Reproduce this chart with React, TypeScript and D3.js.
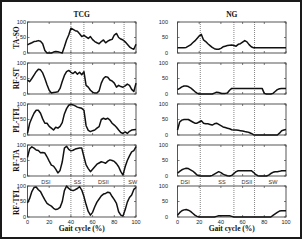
import * as d3 from 'd3';

// gait cycle sample positions (%)
const gaitPct = [0, 2, 4, 6, 8, 10, 12, 14, 16, 18, 20, 22, 24, 26, 28, 30, 32, 34, 36, 38, 40, 42, 44, 46, 48, 50, 52, 54, 56, 58, 60, 62, 64, 66, 68, 70, 72, 74, 76, 78, 80, 82, 84, 86, 88, 90, 92, 94, 96, 98, 100];

// TCG column
const tcgTaSo = [26, 30, 33, 37, 38, 40, 38, 30, 8, 0, 0, 0, 3, 5, 4, 2, 0, 20, 42, 58, 80, 76, 72, 70, 62, 53, 57, 52, 47, 53, 43, 37, 33, 30, 37, 42, 33, 38, 42, 44, 58, 63, 50, 45, 42, 36, 28, 20, 15, 12, 28];
const tcgRfSt = [45, 40, 50, 61, 72, 80, 78, 68, 50, 30, 12, 3, 5, 6, 7, 18, 40, 60, 72, 76, 70, 66, 72, 64, 70, 62, 72, 28, 22, 12, 6, 3, 3, 10, 35, 50, 56, 54, 45, 42, 35, 22, 28, 24, 22, 26, 32, 28, 15, 8, 35];
const tcgPlTfl = [5, 38, 55, 70, 80, 80, 70, 52, 38, 38, 28, 22, 16, 25, 22, 28, 40, 68, 85, 96, 99, 97, 94, 90, 88, 86, 80, 30, 15, 11, 14, 16, 22, 27, 50, 54, 51, 54, 48, 38, 32, 25, 16, 8, 5, 10, 5, 12, 16, 17, 18];
const tcgRfTa = [60, 88, 94, 90, 84, 82, 75, 76, 74, 62, 48, 35, 32, 22, 10, 18, 45, 90, 96, 86, 81, 83, 87, 89, 90, 90, 62, 36, 24, 14, 22, 30, 38, 42, 46, 44, 41, 48, 52, 50, 47, 40, 30, 14, 3, 30, 50, 65, 78, 82, 95];
const tcgRfTfl = [45, 60, 82, 95, 97, 88, 82, 68, 55, 44, 39, 35, 28, 24, 26, 31, 49, 85, 100, 92, 87, 85, 88, 92, 98, 87, 66, 40, 18, 6, 15, 33, 48, 58, 68, 74, 76, 80, 78, 66, 56, 44, 17, 6, 3, 23, 48, 63, 71, 89, 95];

// NG column
const ngTaSo = [17, 17, 17, 17, 18, 22, 26, 33, 39, 47, 55, 60, 42, 37, 30, 24, 18, 14, 12, 12, 15, 20, 22, 24, 25, 26, 24, 22, 28, 30, 35, 40, 36, 27, 20, 17, 17, 17, 17, 17, 17, 17, 17, 17, 17, 17, 17, 17, 17, 17, 17];
const ngRfSt = [14, 18, 23, 26, 26, 24, 20, 14, 8, 3, 0, 0, 0, 0, 0, 0, 0, 3, 6, 5, 2, 2, 2, 3, 12, 18, 18, 18, 18, 18, 18, 18, 18, 18, 18, 18, 18, 18, 18, 18, 2, 0, 0, 0, 2, 8, 14, 17, 18, 18, 18];
const ngPlTfl = [16, 42, 48, 50, 50, 50, 46, 42, 38, 38, 42, 46, 38, 36, 36, 34, 32, 36, 38, 34, 30, 26, 24, 22, 20, 17, 16, 16, 15, 14, 13, 11, 10, 8, 5, 1, 0, 0, 0, 0, 0, 0, 0, 0, 0, 0, 0, 6, 14, 16, 18];
const ngRfTa = [9, 15, 20, 23, 25, 24, 20, 16, 10, 3, 1, 0, 0, 0, 0, 0, 2, 6, 10, 14, 11, 6, 3, 1, 0, 2, 8, 14, 17, 17, 17, 17, 17, 17, 17, 12, 5, 1, 0, 0, 0, 0, 3, 8, 12, 14, 14, 15, 17, 17, 17];
const ngRfTfl = [6, 14, 20, 23, 24, 22, 18, 12, 6, 2, 0, 0, 0, 0, 0, 0, 0, 0, 2, 4, 4, 4, 4, 4, 4, 2, 0, 0, 0, 0, 0, 0, 0, 0, 0, 0, 0, 0, 0, 0, 0, 0, 0, 0, 5, 10, 15, 19, 20, 20, 20];

const muscleLabels = ['TA-SO', 'RF-ST', 'PL-TFL', 'RF-TA', 'RF-TFL'];
const tcgSeries = [tcgTaSo, tcgRfSt, tcgPlTfl, tcgRfTa, tcgRfTfl];
const ngSeries = [ngTaSo, ngRfSt, ngPlTfl, ngRfTa, ngRfTfl];

const phaseLabels = ['DSI', 'SS', 'DSII', 'SW'];
const tcgPhaseLines = [40, 52, 89];
const ngPhaseLines = [21, 52, 71];
const tcgPhasePos = [17, 46, 70, 97];
const ngPhasePos = [7, 41, 64, 88];

const yTicks = [0, 50, 100];
const xTicks = [0, 20, 40, 60, 80, 100];

const W = 305;
const H = 244;
const rowTops = [22, 63, 104, 145, 186];
const rowH = 31;
const serif = "'Liberation Serif', 'Times New Roman', serif";
const sans = "'Liberation Sans', Arial, sans-serif";

interface ColumnProps {
  title: string;
  series: number[][];
  x0: number;
  x1: number;
  phaseLines: number[];
  phasePos: number[];
  tickRight: number;
  showNames: boolean;
}

function Column({ title, series, x0, x1, phaseLines, phasePos, tickRight, showNames }: ColumnProps) {
  const x = d3.scaleLinear().domain([0, 100]).range([x0, x1]);
  const top = rowTops[0];
  const bottom = rowTops[rowTops.length - 1] + rowH;

  return (
    <g>
      <text x={(x0 + x1) / 2} y={17.3} textAnchor="middle" fontFamily={serif} fontWeight="bold" fontSize={7.5} fill="#111">
        {title}
      </text>

      {phaseLines.map((p, i) => (
        <line key={i} x1={x(p)} x2={x(p)} y1={top} y2={bottom} stroke="#666" strokeWidth={0.8} strokeDasharray="1,1" />
      ))}

      {series.map((vals, r) => {
        const y = d3.scaleLinear().domain([0, 100]).range([rowTops[r] + rowH, rowTops[r]]);
        const line = d3
          .line<number>()
          .x((_, i) => x(gaitPct[i]))
          .y((d) => y(d));
        return (
          <g key={r}>
            <rect x={x0} y={rowTops[r]} width={x1 - x0} height={rowH} fill="none" stroke="#444" strokeWidth={0.9} />
            {yTicks.map((t) => (
              <g key={t}>
                <line x1={x0} x2={x0 + 2} y1={y(t)} y2={y(t)} stroke="#444" strokeWidth={0.7} />
                <line x1={x1} x2={x1 - 2} y1={y(t)} y2={y(t)} stroke="#444" strokeWidth={0.7} />
                <text x={tickRight} y={y(t)} dy="0.35em" textAnchor="end" fontFamily={sans} fontSize={5.5} fill="#222">
                  {t}
                </text>
              </g>
            ))}
            {xTicks.map((t) => (
              <g key={t}>
                <line x1={x(t)} x2={x(t)} y1={rowTops[r] + rowH} y2={rowTops[r] + rowH - 2} stroke="#444" strokeWidth={0.7} />
                <line x1={x(t)} x2={x(t)} y1={rowTops[r]} y2={rowTops[r] + 2} stroke="#444" strokeWidth={0.7} />
              </g>
            ))}
            <path d={line(vals) ?? ''} fill="none" stroke="#111" strokeWidth={1.5} strokeLinejoin="round" />
            {showNames && (
              <text
                transform={`translate(18.5,${rowTops[r] + rowH / 2}) rotate(-90)`}
                textAnchor="middle"
                fontFamily={serif}
                fontWeight="bold"
                fontSize={7.5}
                fill="#111"
              >
                {muscleLabels[r]}
              </text>
            )}
          </g>
        );
      })}

      {phaseLabels.map((lab, i) => (
        <text key={lab} x={x(phasePos[i])} y={184} textAnchor="middle" fontFamily={sans} fontSize={5.5} fill="#333">
          {lab}
        </text>
      ))}

      {xTicks.map((t) => (
        <text key={t} x={x(t)} y={223.5} textAnchor="middle" fontFamily={sans} fontSize={5.5} fill="#222">
          {t}
        </text>
      ))}
      <text x={(x0 + x1) / 2} y={230.5} textAnchor="middle" fontFamily={serif} fontWeight="bold" fontSize={7.5} fill="#111">
        Gait cycle (%)
      </text>
    </g>
  );
}

export default function App() {
  return (
    <svg width={W} height={H} viewBox={`0 0 ${W} ${H}`} style={{ position: 'absolute', left: 0, top: 0, background: '#fff' }}>
      <rect x={1} y={1} width={300} height={237} fill="#fff" stroke="#1a1a1a" strokeWidth={2} />
      <Column
        title="TCG"
        series={tcgSeries}
        x0={27.5}
        x1={136}
        phaseLines={tcgPhaseLines}
        phasePos={tcgPhasePos}
        tickRight={26}
        showNames={true}
      />
      <Column
        title="NG"
        series={ngSeries}
        x0={177.5}
        x1={286}
        phaseLines={ngPhaseLines}
        phasePos={ngPhasePos}
        tickRight={168}
        showNames={false}
      />
    </svg>
  );
}
